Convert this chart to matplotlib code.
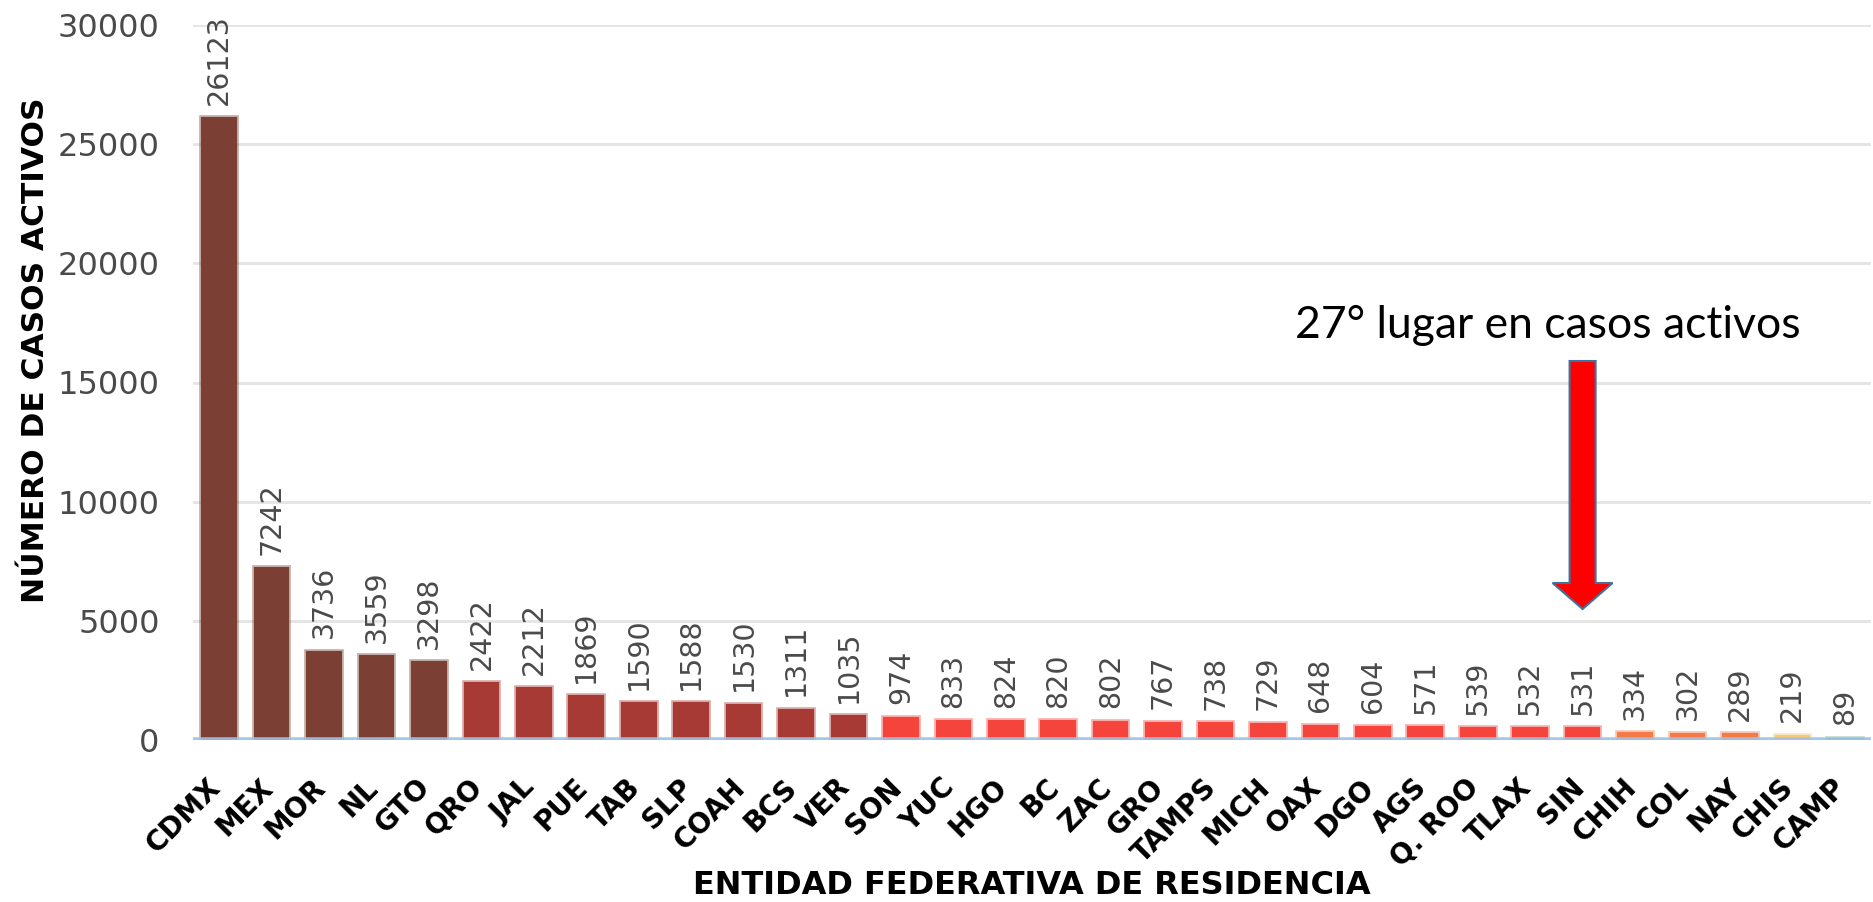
import matplotlib
matplotlib.use("Agg")
import matplotlib.pyplot as plt
from matplotlib.patches import FancyArrow
from matplotlib.colors import to_rgba
from matplotlib.transforms import ScaledTranslation

states = ["CDMX", "MEX", "MOR", "NL", "GTO", "QRO", "JAL", "PUE", "TAB", "SLP",
          "COAH", "BCS", "VER", "SON", "YUC", "HGO", "BC", "ZAC", "GRO", "TAMPS",
          "MICH", "OAX", "DGO", "AGS", "Q. ROO", "TLAX", "SIN", "CHIH", "COL",
          "NAY", "CHIS", "CAMP"]
cases = [26123, 7242, 3736, 3559, 3298, 2422, 2212, 1869, 1590, 1588,
         1530, 1311, 1035, 974, 833, 824, 820, 802, 767, 738,
         729, 648, 604, 571, 539, 532, 531, 334, 302,
         289, 219, 89]
level = [0]*5 + [1]*8 + [2]*14 + [3]*3 + [4] + [5]
palette = ["#7B4033", "#A83A36", "#F4443C", "#F47A48", "#F8C878", "#70AE9E"]
yticks = [0, 5000, 10000, 15000, 20000, 25000, 30000]
highlight = "SIN"
note = "27° lugar en casos activos"

W, H = 1873, 902
fig = plt.figure(figsize=(W/100, H/100), dpi=100)
ax = fig.add_axes([193/W, 1-740/H, (1871-193)/W, (740-25)/H])

x = list(range(len(states)))
cols = [palette[l] for l in level]
edges = [to_rgba(c, 0.45) for c in cols]
ax.bar(x, cases, width=0.68, color=cols, edgecolor=edges, linewidth=2.6, zorder=2)

for xi, v in zip(x, cases):
    ax.annotate(str(v), (xi, v), xytext=(0, 9), textcoords="offset points",
                rotation=90, ha="center", va="bottom", fontsize=20.5,
                color="#4a4a4a", family="DejaVu Sans", annotation_clip=False)

ax.set_xlim(-0.5, len(states)-0.5)
ax.set_ylim(0, 30000)
ax.set_yticks(yticks)
ax.set_yticklabels([str(t) for t in yticks], fontsize=23, color="#4a4a4a")
ax.tick_params(axis="y", length=0, pad=24)
ax.set_xticks(x)
ax.set_xticklabels(states, rotation=45, ha="right", va="center",
                   rotation_mode="anchor", fontsize=20, fontweight="bold",
                   color="black")
ax.tick_params(axis="x", length=0, pad=31)
shift = ScaledTranslation(-3/100, 0, fig.dpi_scale_trans)
for lab in ax.get_xticklabels():
    lab.set_transform(lab.get_transform() + shift)
ax.grid(axis="y", color="#E4E4E4", linewidth=2, zorder=0)
ax.set_axisbelow(True)
for s in ax.spines.values():
    s.set_visible(False)
ax.axhline(0, color="#9DC3E6", alpha=0.9, linewidth=4, zorder=3)

fig.text(36/W, 1-350/H, "NÚMERO DE CASOS ACTIVOS", rotation=90, ha="center",
         va="center", fontsize=22.5, fontweight="bold")
fig.text(1032/W, 1-886/H, "ENTIDAD FEDERATIVA DE RESIDENCIA", ha="center",
         va="center", fontsize=23, fontweight="bold")

fig.text(1548/W, 1-325/H, note, ha="center", va="center",
         fontsize=32, family="Lato", color="black")

# arrow pointing at the highlighted state's bar
hx = states.index(highlight)
ax_h = (740-25)
y_top = (740-361)/ax_h
y_tip = (740-609)/ax_h
xa = ax.transData.transform((hx, 0))[0]
x_axes = (xa - ax.bbox.x0) / ax.bbox.width
arrow = FancyArrow(x_axes, y_top, 0, y_tip-y_top, width=26/1678,
                   head_width=60/1678, head_length=26/ax_h,
                   length_includes_head=True, transform=ax.transAxes,
                   facecolor="#FF0000", edgecolor="#41719C", linewidth=1.5,
                   zorder=10, clip_on=False)
ax.add_patch(arrow)

fig.savefig("out.png", dpi=100)
